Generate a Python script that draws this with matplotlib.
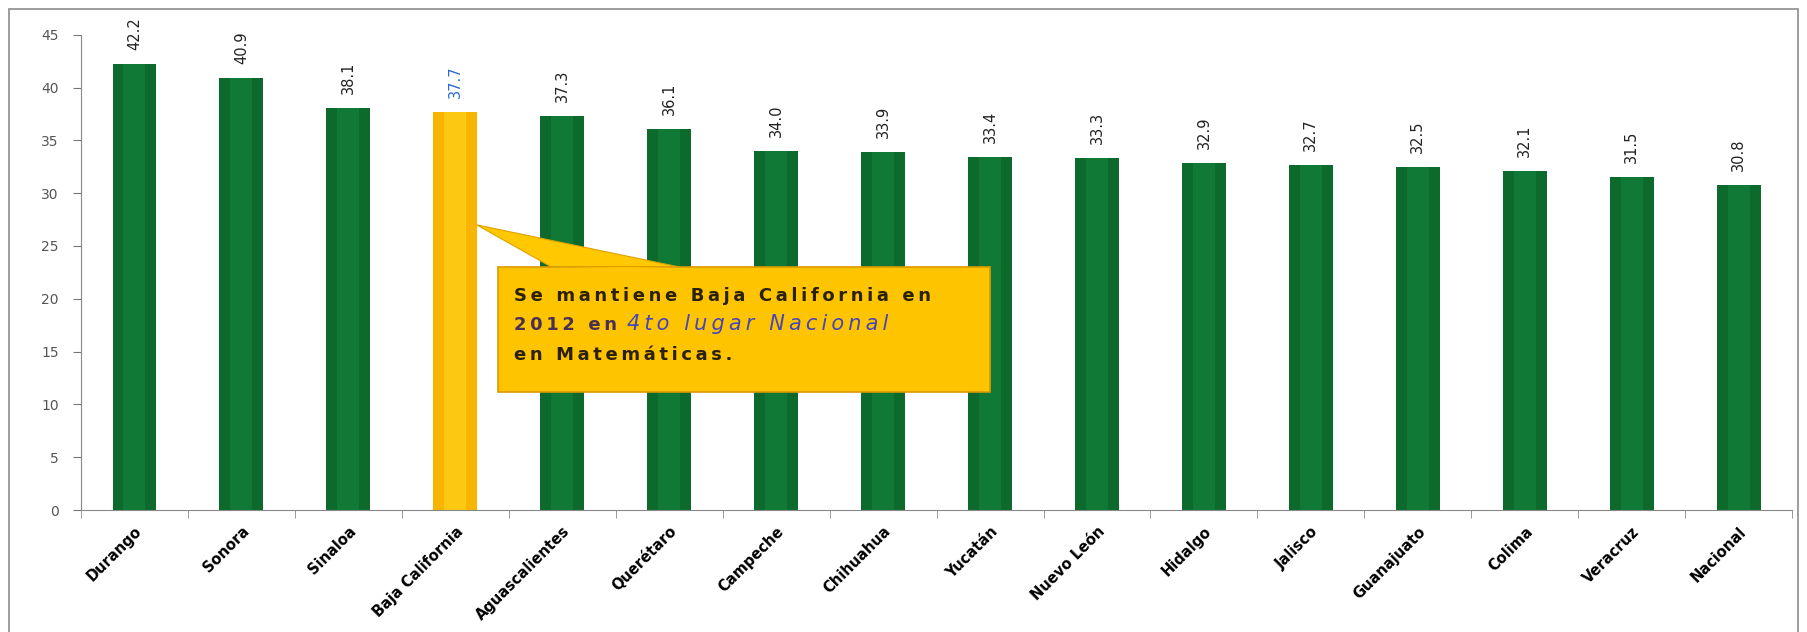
import matplotlib.pyplot as plt
from matplotlib.patches import Rectangle, Polygon

estados = ['Durango', 'Sonora', 'Sinaloa', 'Baja California', 'Aguascalientes',
           'Querétaro', 'Campeche', 'Chihuahua', 'Yucatán', 'Nuevo León',
           'Hidalgo', 'Jalisco', 'Guanajuato', 'Colima', 'Veracruz', 'Nacional']
puntajes = [42.2, 40.9, 38.1, 37.7, 37.3, 36.1, 34.0, 33.9, 33.4, 33.3,
            32.9, 32.7, 32.5, 32.1, 31.5, 30.8]
resaltado = 'Baja California'

verde = '#0b6a2c'
oro = '#f7b500'


def espaciar(s, sep='\u2009'):
    # the callout text in the original has very loose letter spacing
    return sep.join(s)


fig = plt.figure(figsize=(18.07, 6.32), dpi=100)
ax = fig.add_axes([0.0448, 0.193, 0.947, 0.752])

# outer frame of the original slide object
fig.patches.append(Rectangle((0.005, -0.05), 0.99, 1.035, transform=fig.transFigure,
                             fill=False, edgecolor='#8c8c8c', linewidth=1.2))

x = range(len(estados))
colores = [oro if e == resaltado else verde for e in estados]
bars = ax.bar(x, puntajes, width=0.41, color=colores, linewidth=0)

# lighter strip in the middle for a bit of cylinder look
for b, c in zip(bars, colores):
    luz = '#ffd21a' if c == oro else '#11803a'
    ax.bar(b.get_x() + b.get_width() / 2, b.get_height(), width=b.get_width() * 0.5,
           color=luz, linewidth=0, alpha=0.7)

for i, (e, v) in enumerate(zip(estados, puntajes)):
    ax.annotate(f'{v:.1f}', (i, v), xytext=(0, 10), textcoords='offset points',
                rotation=90, ha='center', va='bottom', fontsize=10.5,
                family=['Liberation Sans Narrow', 'DejaVu Sans'],
                color='#2a6bd0' if e == resaltado else '#222222')

ax.set_xlim(-0.5, len(estados) - 0.5)
ax.set_ylim(0, 45)
ax.set_yticks(range(0, 46, 5))
ax.tick_params(axis='y', labelsize=10, labelcolor='#555555', color='#777777',
               length=6, direction='out', pad=10)

ax.set_xticks(list(x))
ax.set_xticklabels(estados, rotation=45, ha='right', rotation_mode='anchor',
                   fontsize=10.5, fontweight='bold')
ax.tick_params(axis='x', length=0, pad=10)
ax.set_xticks([i - 0.5 for i in range(len(estados) + 1)], minor=True)
ax.tick_params(axis='x', which='minor', length=6, color='#888888')

for s in ['top', 'right']:
    ax.spines[s].set_visible(False)
for s in ['left', 'bottom']:
    ax.spines[s].set_color('#888888')

# callout box
cola = Polygon([(3.2, 27.0), (3.9, 23.0), (5.1, 23.0)], closed=True,
               facecolor='#ffc800', edgecolor='#e0a000', linewidth=0.8, zorder=4)
ax.add_patch(cola)
caja = Rectangle((3.4, 11.2), 4.6, 11.8, facecolor='#ffc400', edgecolor='#d99a00',
                 linewidth=1.2, zorder=4)
ax.add_patch(caja)
ax.add_patch(Polygon([(3.9, 23.0), (5.1, 23.0), (4.6, 22.9)], closed=True,
                     facecolor='#ffc400', edgecolor='none', zorder=5))

fuente = dict(fontsize=13, fontweight='bold', color='#2b2008', zorder=6)
ax.text(3.55, 20.3, espaciar('Se mantiene Baja California en'), va='center', **fuente)
t2 = ax.text(3.55, 17.5, espaciar('2012 en '), va='center',
             fontsize=13, fontweight='bold', color='#4a2f55', zorder=6)
ax.annotate(espaciar('4to lugar Nacional'), xy=(1, 0), xycoords=t2,
            va='bottom', fontsize=15, fontstyle='italic', color='#4646b8', zorder=6)
ax.text(3.55, 14.7, espaciar('en Matemáticas.'), va='center', **fuente)

fig.savefig('out.png', dpi=100)
